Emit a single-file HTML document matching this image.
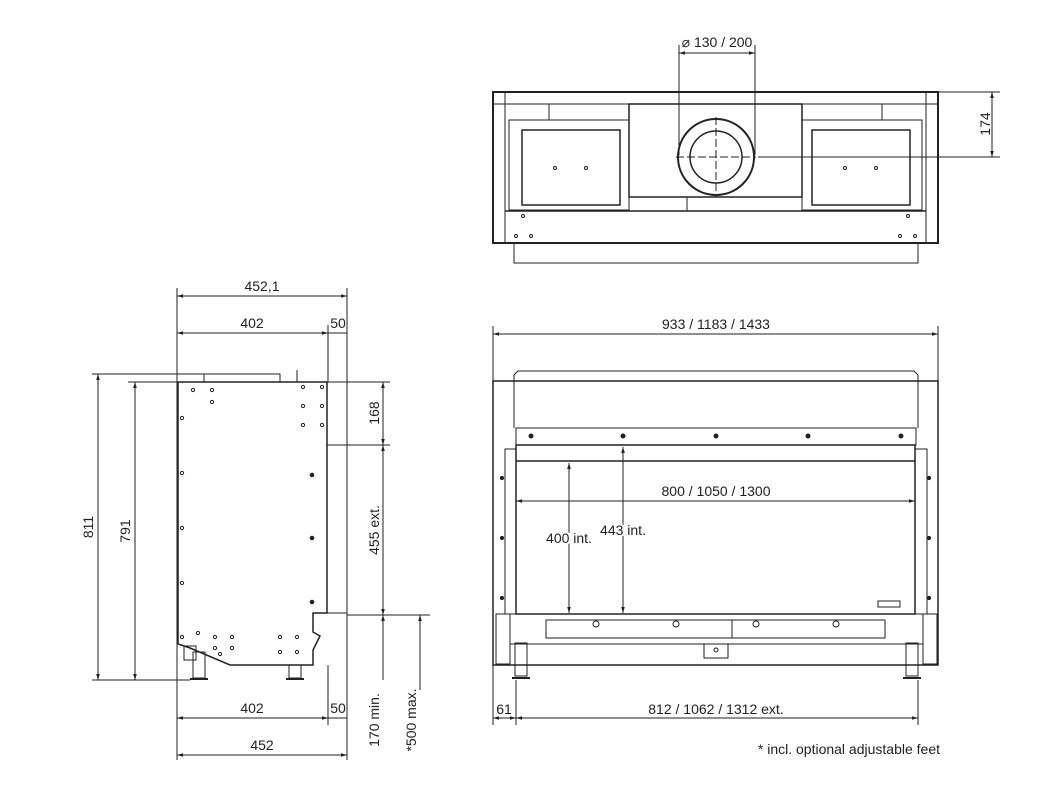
<!DOCTYPE html>
<html><head><meta charset="utf-8"><style>
html,body{margin:0;padding:0;background:#fff;}
svg{display:block;}
text{font-family:"Liberation Sans",sans-serif;font-size:14px;fill:#222;}
</style></head><body>
<svg width="1045" height="787" viewBox="0 0 1045 787" xmlns="http://www.w3.org/2000/svg">
<defs>
<marker id="a" viewBox="0 0 10 10" refX="10" refY="5" markerWidth="8" markerHeight="6" orient="auto-start-reverse"><path d="M0,2 L10,5 L0,8z" fill="#222"/></marker>
</defs>
<g stroke="#222" fill="none" stroke-width="1">
<!-- ===== TOP VIEW ===== -->
<rect x="493" y="92" width="445" height="151" stroke-width="2"/>
<line x1="493" y1="104" x2="938" y2="104"/>
<line x1="505" y1="92" x2="505" y2="243"/><line x1="926" y1="92" x2="926" y2="243"/>
<rect x="549" y="104" width="80" height="16"/><rect x="802" y="104" width="80" height="16"/>
<rect x="629" y="104" width="173" height="93" stroke-width="1.5"/>
<rect x="509" y="120" width="120" height="90"/><rect x="802" y="120" width="120" height="90"/>
<rect x="522" y="130" width="98" height="75" stroke-width="1.5"/><rect x="812" y="130" width="98" height="75" stroke-width="1.5"/>
<line x1="505" y1="211" x2="926" y2="211" stroke-width="1.5"/>
<line x1="687" y1="197" x2="687" y2="211"/>
<circle cx="716" cy="157" r="38" stroke-width="2"/><circle cx="716" cy="157" r="26" stroke-width="1.5"/>
<line x1="716" y1="117" x2="716" y2="197" stroke-dasharray="8 3"/>
<line x1="676" y1="157" x2="756" y2="157" stroke-dasharray="8 3"/>
<rect x="514" y="243" width="404" height="20"/>
<g fill="none"><circle cx="555" cy="168" r="1.5"/><circle cx="586" cy="168" r="1.5"/><circle cx="845" cy="168" r="1.5"/><circle cx="876" cy="168" r="1.5"/>
<circle cx="523" cy="216" r="1.5"/><circle cx="908" cy="216" r="1.5"/><circle cx="516" cy="236" r="1.5"/><circle cx="531" cy="236" r="1.5"/><circle cx="900" cy="236" r="1.5"/><circle cx="915" cy="236" r="1.5"/></g>
<!-- dims top -->
<line x1="679" y1="45" x2="679" y2="155"/><line x1="755" y1="45" x2="755" y2="155"/>
<line x1="679" y1="53" x2="755" y2="53" marker-start="url(#a)" marker-end="url(#a)"/>
<line x1="938" y1="92" x2="1000" y2="92"/><line x1="758" y1="157" x2="1000" y2="157"/>
<line x1="992" y1="92" x2="992" y2="157" marker-start="url(#a)" marker-end="url(#a)"/>

<!-- ===== FRONT VIEW ===== -->
<path d="M514 381 L514 375 L518 371 L914 371 L918 375 L918 381"/>
<rect x="493" y="381" width="445" height="284" stroke-width="1.5"/>
<line x1="514" y1="381" x2="514" y2="428"/><line x1="918" y1="381" x2="918" y2="428"/>
<rect x="516" y="428" width="400" height="17"/>
<rect x="516" y="445" width="399" height="169" stroke-width="1.5"/>
<line x1="516" y1="461" x2="915" y2="461" stroke-width="1.5"/>
<rect x="505" y="449" width="11" height="165"/><rect x="915" y="449" width="12" height="165"/>
<rect x="878" y="601" width="22" height="6"/>
<rect x="510" y="614" width="413" height="30"/>
<rect x="546" y="620" width="339" height="18"/><line x1="732" y1="620" x2="732" y2="638"/>
<rect x="704" y="644" width="24" height="14"/>
<rect x="496" y="614" width="14" height="50"/><rect x="923" y="614" width="14" height="50"/>
<rect x="515" y="643" width="12" height="33"/><rect x="906" y="643" width="12" height="33"/>
<line x1="512" y1="678" x2="530" y2="678" stroke-width="2"/><line x1="903" y1="678" x2="921" y2="678" stroke-width="2"/>
<g fill="#222"><circle cx="531" cy="436" r="2"/><circle cx="623" cy="436" r="2"/><circle cx="716" cy="436" r="2"/><circle cx="808" cy="436" r="2"/><circle cx="901" cy="436" r="2"/>
<circle cx="502" cy="478" r="1.6"/><circle cx="502" cy="538" r="1.6"/><circle cx="502" cy="598" r="1.6"/><circle cx="929" cy="478" r="1.6"/><circle cx="929" cy="538" r="1.6"/><circle cx="929" cy="598" r="1.6"/></g>
<g><circle cx="596" cy="624" r="3"/><circle cx="676" cy="624" r="3"/><circle cx="756" cy="624" r="3"/><circle cx="836" cy="624" r="3"/><circle cx="716" cy="650" r="2"/></g>
<!-- dims front -->
<line x1="493" y1="326" x2="493" y2="381"/><line x1="938" y1="326" x2="938" y2="381"/>
<line x1="493" y1="334" x2="938" y2="334" marker-start="url(#a)" marker-end="url(#a)"/>
<line x1="516" y1="501" x2="915" y2="501" marker-start="url(#a)" marker-end="url(#a)"/>
<line x1="569" y1="463" x2="569" y2="613" marker-start="url(#a)" marker-end="url(#a)"/>
<line x1="623" y1="447" x2="623" y2="613" marker-start="url(#a)" marker-end="url(#a)"/>
<line x1="493" y1="665" x2="493" y2="725"/><line x1="516" y1="680" x2="516" y2="725"/><line x1="918" y1="680" x2="918" y2="725"/>
<line x1="493" y1="718" x2="516" y2="718" marker-start="url(#a)" marker-end="url(#a)"/>
<line x1="516" y1="718" x2="918" y2="718" marker-start="url(#a)" marker-end="url(#a)"/>

<!-- ===== SIDE VIEW ===== -->
<rect x="204" y="374" width="76" height="8"/>
<line x1="297" y1="370" x2="297" y2="382"/>
<path d="M178 382 L327 382 L327 613 L313 613 L313 632 L320 636 L313 650 L313 665 L230 665 L190 648 L178 644 Z" stroke-width="1.5"/>
<line x1="327" y1="445" x2="347" y2="445"/><line x1="327" y1="613" x2="347" y2="613"/>
<rect x="184" y="646" width="12" height="14"/>
<rect x="193" y="652" width="12" height="26"/><rect x="289" y="665" width="12" height="13"/>
<line x1="190" y1="679" x2="208" y2="679" stroke-width="2"/><line x1="286" y1="679" x2="304" y2="679" stroke-width="2"/>
<g><circle cx="193" cy="390" r="1.6"/><circle cx="212" cy="390" r="1.6"/><circle cx="212" cy="402" r="1.6"/><circle cx="303" cy="387" r="1.6"/><circle cx="322" cy="387" r="1.6"/><circle cx="303" cy="406" r="1.6"/><circle cx="322" cy="406" r="1.6"/><circle cx="303" cy="425" r="1.6"/><circle cx="322" cy="425" r="1.6"/>
<circle cx="182" cy="418" r="1.6"/><circle cx="182" cy="473" r="1.6"/><circle cx="182" cy="528" r="1.6"/><circle cx="182" cy="583" r="1.6"/><circle cx="182" cy="637" r="1.6"/>
<circle cx="198" cy="633" r="1.6"/><circle cx="215" cy="637" r="1.6"/><circle cx="232" cy="637" r="1.6"/><circle cx="215" cy="648" r="1.6"/><circle cx="232" cy="648" r="1.6"/><circle cx="220" cy="654" r="1.6"/><circle cx="280" cy="637" r="1.6"/><circle cx="297" cy="637" r="1.6"/><circle cx="280" cy="652" r="1.6"/><circle cx="297" cy="652" r="1.6"/></g>
<g fill="#222"><circle cx="312" cy="475" r="1.8"/><circle cx="312" cy="538" r="1.8"/><circle cx="312" cy="602" r="1.8"/></g>
<!-- dims side -->
<line x1="177" y1="288" x2="177" y2="760"/><line x1="328" y1="325" x2="328" y2="382"/><line x1="347" y1="288" x2="347" y2="760"/>
<line x1="328" y1="665" x2="328" y2="725"/>
<line x1="177" y1="296" x2="347" y2="296" marker-start="url(#a)" marker-end="url(#a)"/>
<line x1="177" y1="333" x2="328" y2="333" marker-start="url(#a)" marker-end="url(#a)"/>
<line x1="328" y1="333" x2="347" y2="333"/>
<line x1="92" y1="374" x2="205" y2="374"/><line x1="128" y1="382" x2="178" y2="382"/>
<line x1="92" y1="680" x2="190" y2="680"/>
<line x1="98" y1="374" x2="98" y2="680" marker-start="url(#a)" marker-end="url(#a)"/>
<line x1="135" y1="382" x2="135" y2="680" marker-start="url(#a)" marker-end="url(#a)"/>
<line x1="327" y1="382" x2="390" y2="382"/><line x1="347" y1="445" x2="390" y2="445"/><line x1="347" y1="615" x2="430" y2="615"/>
<line x1="383" y1="382" x2="383" y2="445" marker-start="url(#a)" marker-end="url(#a)"/>
<line x1="383" y1="445" x2="383" y2="615" marker-start="url(#a)" marker-end="url(#a)"/>
<line x1="383" y1="615" x2="383" y2="680" marker-start="url(#a)"/>
<line x1="420" y1="615" x2="420" y2="690" marker-start="url(#a)"/>
<line x1="177" y1="718" x2="328" y2="718" marker-start="url(#a)" marker-end="url(#a)"/>
<line x1="328" y1="718" x2="347" y2="718"/>
<line x1="177" y1="755" x2="347" y2="755" marker-start="url(#a)" marker-end="url(#a)"/>
</g>
<!-- labels -->
<text x="717" y="47" text-anchor="middle">⌀ 130 / 200</text>
<text x="990" y="124" text-anchor="middle" transform="rotate(-90 990 124)">174</text>
<text x="716" y="329" text-anchor="middle">933 / 1183 / 1433</text>
<text x="716" y="496" text-anchor="middle">800 / 1050 / 1300</text>
<text x="569" y="543" text-anchor="middle" style="paint-order:stroke" stroke="#fff" stroke-width="4">400 int.</text>
<text x="623" y="535" text-anchor="middle" style="paint-order:stroke" stroke="#fff" stroke-width="4">443 int.</text>
<text x="504" y="714" text-anchor="middle">61</text>
<text x="716" y="714" text-anchor="middle">812 / 1062 / 1312 ext.</text>
<text x="940" y="754" text-anchor="end">* incl. optional adjustable feet</text>
<text x="262" y="291" text-anchor="middle">452,1</text>
<text x="252" y="328" text-anchor="middle">402</text>
<text x="338" y="328" text-anchor="middle">50</text>
<text x="252" y="713" text-anchor="middle">402</text>
<text x="338" y="713" text-anchor="middle">50</text>
<text x="262" y="750" text-anchor="middle">452</text>
<text x="93" y="527" text-anchor="middle" transform="rotate(-90 93 527)">811</text>
<text x="130" y="531" text-anchor="middle" transform="rotate(-90 130 531)">791</text>
<text x="379" y="413" text-anchor="middle" transform="rotate(-90 379 413)">168</text>
<text x="379" y="530" text-anchor="middle" transform="rotate(-90 379 530)">455 ext.</text>
<text x="379" y="720" text-anchor="middle" transform="rotate(-90 379 720)">170 min.</text>
<text x="416" y="720" text-anchor="middle" transform="rotate(-90 416 720)">*500 max.</text>
</svg>
</body></html>
